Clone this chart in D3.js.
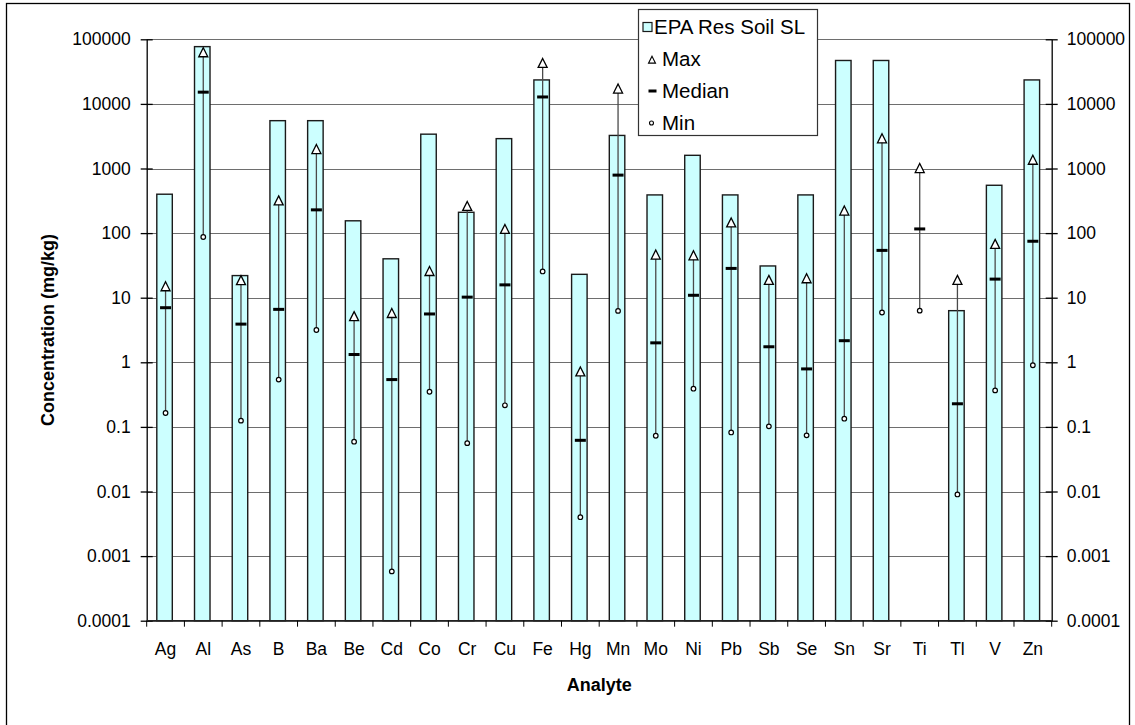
<!DOCTYPE html>
<html>
<head>
<meta charset="utf-8">
<script src="https://cdn.jsdelivr.net/npm/d3@7/dist/d3.min.js"></script>
<style>
  html, body { margin: 0; padding: 0; background: #fff; }
  svg { display: block; font-family: Arial, "Liberation Sans", sans-serif; }
</style>
</head>
<body>
<svg id="chart" width="1135" height="725"></svg>
<script>
// Analytes on the category axis
const analytes = ["Ag","Al","As","B","Ba","Be","Cd","Co","Cr","Cu","Fe","Hg","Mn","Mo","Ni","Pb","Sb","Se","Sn","Sr","Ti","Tl","V","Zn"];

// EPA residential soil screening level (mg/kg); Ti has none
const epaSL = [400, 77000, 22, 5500, 5500, 155, 40, 3400, 210, 2900, 23500, 23, 3250, 390, 1600, 390, 31, 390, 47000, 47000, null, 6.3, 550, 23500];

// Sample statistics (mg/kg)
const maxVals    = [14.8, 62000, 18.4, 316, 1970, 5.1, 5.7, 25.5, 259, 114, 42400, 0.71, 17000, 45.8, 44.6, 144, 18.6, 19.7, 220, 2890, 1000, 18.6, 67, 1345];
const medianVals = [7.0, 15200, 3.9, 6.6, 229, 1.32, 0.54, 5.6, 10.2, 15.8, 12800, 0.062, 790, 2.0, 10.9, 28.4, 1.74, 0.79, 2.16, 54, 116, 0.228, 19.4, 74.8];
const minVals    = [0.164, 87, 0.125, 0.54, 3.16, 0.059, 0.00058, 0.35, 0.056, 0.216, 25.5, 0.0040, 6.25, 0.073, 0.39, 0.082, 0.102, 0.074, 0.134, 5.9, 6.3, 0.0090, 0.367, 0.90];

// Decade ticks for both value axes
const yTickValues = [1e-4, 1e-3, 1e-2, 1e-1, 1, 10, 100, 1000, 10000, 100000];
const yTickLabels = ["0.0001","0.001","0.01","0.1","1","10","100","1000","10000","100000"];

const legendLabels = ["EPA Res Soil SL", "Max", "Median", "Min"];

const rows = analytes.map((a, i) => ({
  name: a, sl: epaSL[i], max: maxVals[i], med: medianVals[i], min: minVals[i]
}));

const svg = d3.select("#chart");
const plotL = 146.7, plotR = 1051.7, plotT = 39.3, plotB = 620.7;

const x = d3.scaleBand().domain(analytes).range([plotL, plotR]).padding(0);
const y = d3.scaleLog().domain([1e-4, 1e5]).range([plotB, plotT]);

// Chart area frame
svg.append("rect")
  .attr("x", 6.5).attr("y", 3.5).attr("width", 1123).attr("height", 740)
  .attr("fill", "#fff").attr("stroke", "#000").attr("stroke-width", 1.3);

// Horizontal gridlines
svg.append("g").selectAll("line").data(yTickValues).join("line")
  .attr("x1", plotL).attr("x2", plotR)
  .attr("y1", d => Math.round(y(d)) + 0.5).attr("y2", d => Math.round(y(d)) + 0.5)
  .attr("stroke", "#6e6e6e").attr("stroke-width", 1);

// Bars for the screening level
const bw = 15.5;
svg.append("g").selectAll("rect").data(rows.filter(r => r.sl != null)).join("rect")
  .attr("x", d => x(d.name) + x.bandwidth() / 2 - bw / 2 - 1)
  .attr("width", bw)
  .attr("y", d => y(d.sl))
  .attr("height", d => plotB - y(d.sl))
  .attr("fill", "#ccffff").attr("stroke", "#1a1a1a").attr("stroke-width", 1.4);

// High-low lines from min to max
const cx = d => x(d.name) + x.bandwidth() / 2;
svg.append("g").selectAll("line").data(rows).join("line")
  .attr("x1", cx).attr("x2", cx)
  .attr("y1", d => y(d.min)).attr("y2", d => y(d.max))
  .attr("stroke", "#4a4a4a").attr("stroke-width", 1.3);

// Median dashes
svg.append("g").selectAll("rect").data(rows).join("rect")
  .attr("x", d => cx(d) - 5.5).attr("width", 11)
  .attr("y", d => y(d.med) - 1.5).attr("height", 3)
  .attr("fill", "#000");

// Max triangles
const tri = (cxv, cyv, s) => `M${cxv},${cyv - s * 0.55}L${cxv + s / 2},${cyv + s * 0.45}L${cxv - s / 2},${cyv + s * 0.45}Z`;
svg.append("g").selectAll("path").data(rows).join("path")
  .attr("d", d => tri(cx(d), y(d.max), 9))
  .attr("fill", "#fff").attr("stroke", "#000").attr("stroke-width", 1.3);

// Min circles
svg.append("g").selectAll("circle").data(rows).join("circle")
  .attr("cx", cx).attr("cy", d => y(d.min)).attr("r", 2.3)
  .attr("fill", "#fff").attr("stroke", "#000").attr("stroke-width", 1.2);

// Axes
const fmt = d => yTickLabels[yTickValues.indexOf(d)];
const gL = svg.append("g").attr("transform", `translate(${plotL},0)`)
  .call(d3.axisLeft(y).tickValues(yTickValues).tickFormat(fmt).tickSizeInner(6).tickSizeOuter(0).tickPadding(10));
gL.selectAll(".tick line").attr("x1", 6);
const gR = svg.append("g").attr("transform", `translate(${plotR},0)`)
  .call(d3.axisRight(y).tickValues(yTickValues).tickFormat(fmt).tickSizeInner(6).tickSizeOuter(0).tickPadding(9));
gR.selectAll(".tick line").attr("x1", -6);

const xTicks = d3.range(analytes.length + 1).map(i => plotL + i * x.step());
const gB = svg.append("g");
gB.append("line").attr("x1", plotL).attr("x2", plotR).attr("y1", plotB).attr("y2", plotB)
  .attr("stroke", "#222").attr("stroke-width", 1.6);
gB.selectAll("line.t").data(xTicks).join("line").attr("class", "t")
  .attr("x1", d => d).attr("x2", d => d).attr("y1", plotB).attr("y2", plotB + 6)
  .attr("stroke", "#000").attr("stroke-width", 1);
gB.selectAll("text").data(analytes).join("text")
  .attr("x", d => x(d) + x.bandwidth() / 2).attr("y", 655)
  .attr("text-anchor", "middle").attr("font-size", 17.5).attr("fill", "#000")
  .text(d => d);

[gL, gR].forEach(g => {
  g.select(".domain").attr("stroke", "#000").attr("stroke-width", 1.3);
  g.selectAll(".tick line").attr("stroke", "#000").attr("stroke-width", 1.3);
  g.selectAll(".tick text").attr("font-size", 17.5).attr("font-family", "Arial, 'Liberation Sans', sans-serif").attr("fill", "#000");
});

// Axis titles
svg.append("text").attr("x", (plotL + plotR) / 2).attr("y", 690.5)
  .attr("text-anchor", "middle").attr("font-size", 18).attr("font-weight", "bold")
  .text("Analyte");
svg.append("text").attr("transform", `translate(54,${(plotT + plotB) / 2}) rotate(-90)`)
  .attr("text-anchor", "middle").attr("font-size", 18).attr("font-weight", "bold")
  .text("Concentration (mg/kg)");

// Legend
const lg = svg.append("g");
lg.append("rect").attr("x", 638.5).attr("y", 9.5).attr("width", 179).attr("height", 126)
  .attr("fill", "#fff").attr("stroke", "#333").attr("stroke-width", 1.2);
const rowY = [27, 59, 91, 123];
lg.append("rect").attr("x", 643).attr("y", rowY[0] - 4.5).attr("width", 9).attr("height", 9)
  .attr("fill", "#ccffff").attr("stroke", "#1a1a1a").attr("stroke-width", 1.2);
lg.append("path").attr("d", tri(652, rowY[1] + 1, 7)).attr("fill", "#fff").attr("stroke", "#000").attr("stroke-width", 1.1);
lg.append("rect").attr("x", 648.5).attr("y", rowY[2] - 1.5).attr("width", 8).attr("height", 3).attr("fill", "#000");
lg.append("circle").attr("cx", 651.5).attr("cy", rowY[3]).attr("r", 2).attr("fill", "#fff").attr("stroke", "#000").attr("stroke-width", 1.1);
lg.selectAll("text").data(legendLabels).join("text")
  .attr("x", (d, i) => i === 0 ? 654 : 662)
  .attr("y", (d, i) => rowY[i])
  .attr("dy", "0.35em")
  .attr("font-size", 20.5).attr("fill", "#000")
  .text(d => d);
</script>
</body>
</html>
